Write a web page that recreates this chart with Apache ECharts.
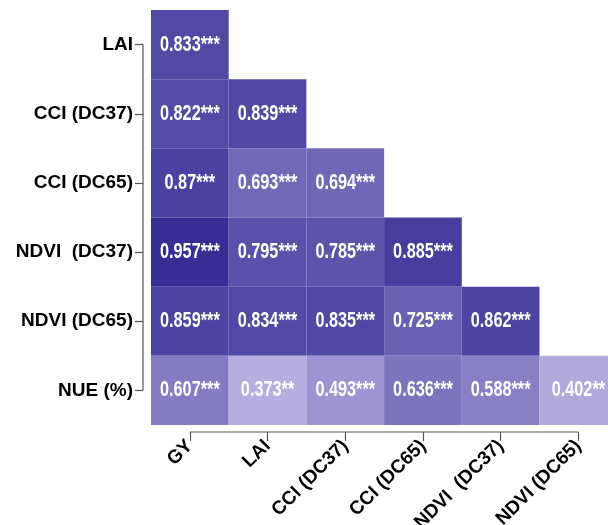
<!DOCTYPE html>
<html>
<head>
<meta charset="utf-8">
<script src="https://cdn.jsdelivr.net/npm/echarts@6/dist/echarts.min.js"></script>
<style>
  html, body { margin: 0; padding: 0; background: #ffffff; }
  #chart { width: 608px; height: 525px; }
</style>
</head>
<body>
<div id="chart"></div>
<script>
// Trait names along each axis
const colTraits = ['GY', 'LAI', 'CCI (DC37)', 'CCI (DC65)', 'NDVI  (DC37)', 'NDVI (DC65)'];
const rowTraits = ['LAI', 'CCI (DC37)', 'CCI (DC65)', 'NDVI  (DC37)', 'NDVI (DC65)', 'NUE (%)'];

// Lower-triangle correlation coefficients, one row per trait
const rLAI      = [0.833];
const rCCI37    = [0.822, 0.839];
const rCCI65    = [0.87, 0.693, 0.694];
const rNDVI37   = [0.957, 0.795, 0.785, 0.885];
const rNDVI65   = [0.859, 0.834, 0.835, 0.725, 0.862];
const rNUE      = [0.607, 0.373, 0.493, 0.636, 0.588, 0.402];

// Significance markers for the same cells
const sLAI      = ['***'];
const sCCI37    = ['***', '***'];
const sCCI65    = ['***', '***', '***'];
const sNDVI37   = ['***', '***', '***', '***'];
const sNDVI65   = ['***', '***', '***', '***', '***'];
const sNUE      = ['***', '**', '***', '***', '***', '**'];

const rRows = [rLAI, rCCI37, rCCI65, rNDVI37, rNDVI65, rNUE];
const sRows = [sLAI, sCCI37, sCCI65, sNDVI37, sNDVI65, sNUE];

const cells = [];
rRows.forEach((row, ri) => {
  row.forEach((v, ci) => {
    cells.push({ value: [ci, ri, v], stars: sRows[ri][ci] });
  });
});

const chart = echarts.init(document.getElementById('chart'), null, { renderer: 'canvas' });

const CELL_W = 77.7;
const GRID = {
  left: 151, top: 10, width: CELL_W * colTraits.length, bottom: 100,
  outerBoundsMode: 'none', containLabel: false
};
const Y_OFFSET = 8;
const X_OFFSET = 7;
const AXIS_FONT = 'Liberation Sans, Arial, sans-serif';

// One tile per coefficient, with a condensed white label
function renderCell(params, api) {
  const c = api.coord([api.value(0), api.value(1)]);
  const s = api.size([1, 1]);
  const d = cells[params.dataIndex];
  return {
    type: 'group',
    children: [
      {
        type: 'rect',
        shape: { x: c[0] - s[0] / 2, y: c[1] - s[1] / 2, width: s[0], height: s[1] },
        style: { fill: api.visual('color') }
      },
      {
        type: 'text',
        x: c[0],
        y: c[1],
        scaleX: 0.74,
        style: {
          text: d.value[2] + d.stars,
          x: 0,
          y: 0,
          fill: '#ffffff',
          font: 'bold 22px "Liberation Sans", Arial, sans-serif',
          align: 'center',
          verticalAlign: 'middle'
        }
      }
    ]
  };
}

chart.setOption({
  animation: false,
  backgroundColor: '#ffffff',
  grid: GRID,
  xAxis: {
    type: 'category',
    data: colTraits,
    offset: X_OFFSET,
    axisLine: { show: false },
    axisTick: { show: true, length: 9, alignWithLabel: true, lineStyle: { color: '#555', width: 1.2 } },
    splitLine: { show: false },
    axisLabel: {
      rotate: 45,
      margin: 11,
      color: '#000',
      fontFamily: AXIS_FONT,
      fontWeight: 'bold',
      fontSize: 19,
      interval: 0
    }
  },
  yAxis: {
    type: 'category',
    data: rowTraits,
    inverse: true,
    offset: Y_OFFSET,
    axisLine: { show: false },
    axisTick: { show: true, length: 8, alignWithLabel: true, lineStyle: { color: '#555', width: 1.2 } },
    splitLine: { show: false },
    axisLabel: {
      margin: 10,
      color: '#000',
      fontFamily: AXIS_FONT,
      fontWeight: 'bold',
      fontSize: 19,
      interval: 0
    }
  },
  visualMap: {
    show: false,
    dimension: 2,
    min: 0.35,
    max: 0.96,
    inRange: { color: ['#bcb3e3', '#362d95'] }
  },
  series: [{
    type: 'custom',
    renderItem: renderCell,
    encode: { x: 0, y: 1 },
    data: cells.map(c => c.value)
  }]
});

// Bracket-style axis lines running from the first to the last tick
function drawAxisLines() {
  const yTop = chart.convertToPixel({ yAxisIndex: 0 }, rowTraits[0]);
  const yBot = chart.convertToPixel({ yAxisIndex: 0 }, rowTraits[rowTraits.length - 1]);
  const xL = chart.convertToPixel({ xAxisIndex: 0 }, colTraits[0]);
  const xR = chart.convertToPixel({ xAxisIndex: 0 }, colTraits[colTraits.length - 1]);
  const gridRect = chart.getModel().getComponent('grid').coordinateSystem.getRect();
  const axX = gridRect.x - Y_OFFSET;
  const axY = gridRect.y + gridRect.height + X_OFFSET;
  chart.setOption({
    graphic: [
      { type: 'line', shape: { x1: axX, y1: yTop, x2: axX, y2: yBot }, style: { stroke: '#555', lineWidth: 1.2 } },
      { type: 'line', shape: { x1: xL, y1: axY, x2: xR, y2: axY }, style: { stroke: '#555', lineWidth: 1.2 } }
    ]
  });
}
drawAxisLines();
</script>
</body>
</html>
